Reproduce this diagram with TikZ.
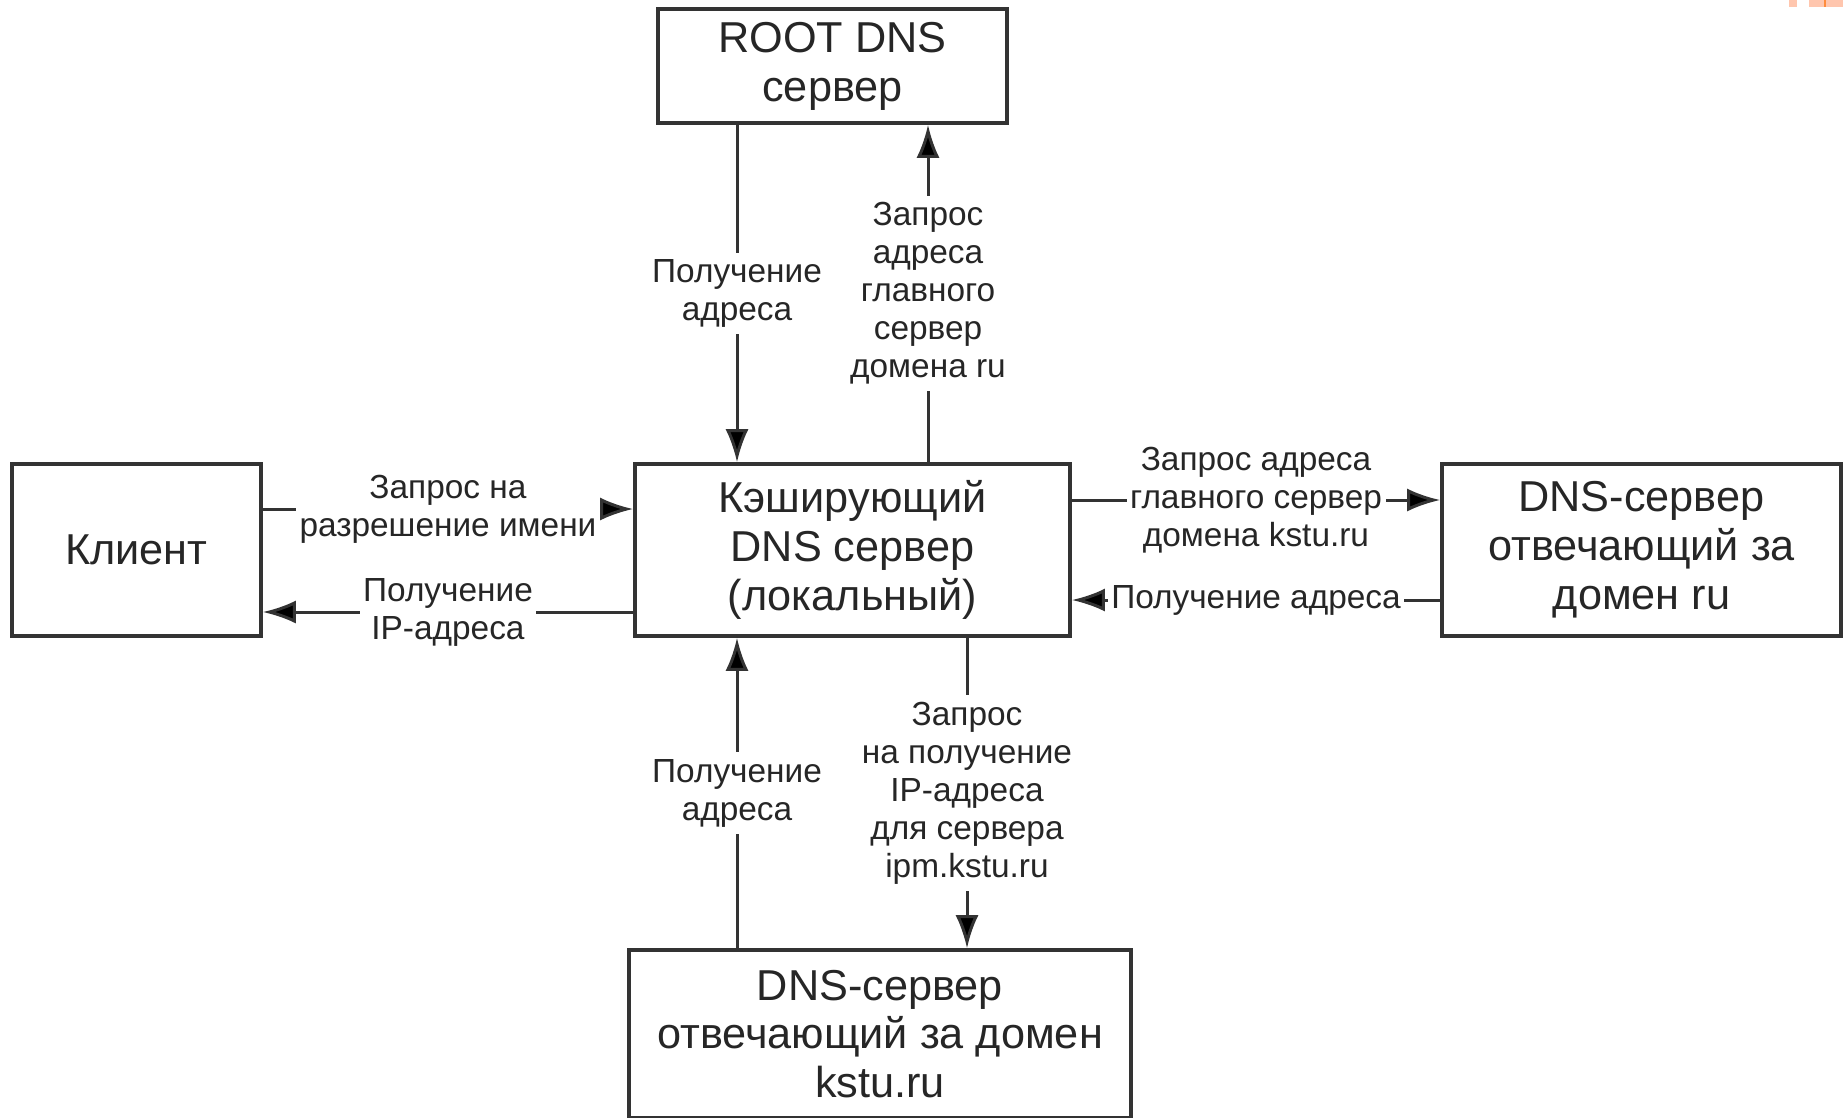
\documentclass[tikz,border=0pt]{standalone}
\usepackage{fontspec}
\setmainfont{Liberation Sans}
\usetikzlibrary{arrows.meta}
\definecolor{peach}{HTML}{FFC6AE}
\definecolor{dorange}{HTML}{FF8C3C}

\begin{document}
\begin{tikzpicture}[x=0.01cm,y=-0.01cm,
  box/.style={draw=black!80,line width=1pt,text=black!85,inner sep=0pt,align=center,font=\fontsize{12.3}{13.9}\selectfont},
  lbl/.style={fill=white,text=black!85,inner xsep=1pt,inner ysep=2pt,align=center,font=\fontsize{9.5}{10.8}\selectfont},
  arr/.style={draw=black!80,line width=0.85pt,-{Latex[length=0.33cm,width=0.23cm,fill=black]}}]

\useasboundingbox (0,0) rectangle (1843,1117);

%\draw[help lines] (0,0) grid[step=100] (1843,1117);
\coordinate (va) at (737,0);
\coordinate (vb) at (928,0);
\coordinate (vc) at (967,0);
\coordinate (ha) at (0,509);
\coordinate (hb) at (0,612);
\coordinate (hc) at (0,500);
\coordinate (hd) at (0,600);

\node[box,minimum width=3.49cm,minimum height=1.14cm] (root) at (832.5,66) {ROOT DNS\\сервер};
\node[box,minimum width=4.35cm,minimum height=1.72cm] (cache) at (852.5,550) {Кэширующий\\DNS сервер\\(локальный)};
\node[box,minimum width=2.49cm,minimum height=1.72cm] (client) at (136.5,550) {Клиент};
\node[box,minimum width=3.99cm,minimum height=1.72cm] (ru) at (1641.5,550) {DNS-сервер\\отвечающий за\\домен ru};
\node[box,minimum width=5.02cm,minimum height=1.68cm] (kstu) at (880,1034) {DNS-сервер\\отвечающий за домен\\kstu.ru};

\draw[arr] (root.south -| va) -- node[lbl,midway] {Получение\\адреса} (cache.north -| va);
\draw[arr] (cache.north -| vb) -- node[lbl,midway] {Запрос\\адреса\\главного\\сервер\\домена ru} (root.south -| vb);

\draw[arr] (client.east |- ha) -- node[lbl,midway] {Запрос на\\разрешение имени} (cache.west |- ha);
\draw[arr] (cache.west |- hb) -- node[lbl,midway] {Получение\\IP-адреса} (client.east |- hb);

\draw[arr] (cache.east |- hc) -- node[lbl,midway] {Запрос адреса\\главного сервер\\домена kstu.ru} (ru.west |- hc);
\draw[arr] (ru.west |- hd) -- node[lbl,midway] {Получение адреса} (cache.east |- hd);

\draw[arr] (kstu.north -| va) -- node[lbl,midway] {Получение\\адреса} (cache.south -| va);
\draw[arr] (cache.south -| vc) -- node[lbl,midway] {Запрос\\на получение\\IP-адреса\\для сервера\\ipm.kstu.ru} (kstu.north -| vc);

% corner of the slide
\fill[peach] (1789,0) rectangle (1797,7);
\fill[peach] (1809,0) rectangle (1843,7);
\fill[dorange] (1824,0) rectangle (1826,7);

\end{tikzpicture}
\end{document}
